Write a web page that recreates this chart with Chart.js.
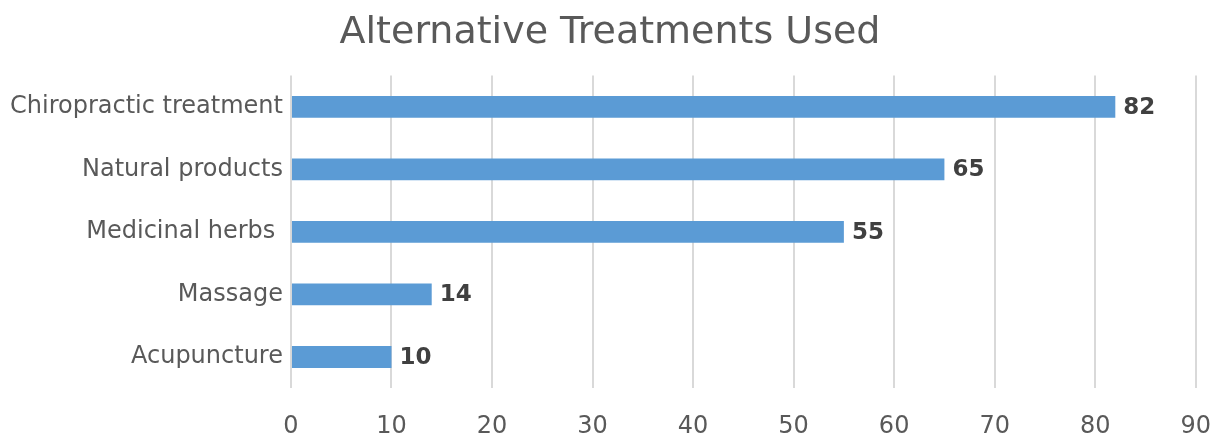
<!DOCTYPE html>
<html><head><meta charset="utf-8">
<script src="https://cdn.jsdelivr.net/npm/chart.js@4"></script>
<style>html,body{margin:0;padding:0;background:#fff}#wrap{width:1213px;height:433px}</style>
</head><body><div id="wrap"><canvas id="c"></canvas></div>
<script>
const categories = ["Chiropractic treatment","Natural products","Medicinal herbs ","Massage","Acupuncture"];
const values = [82,65,55,14,10];
const xTicks = [0,10,20,30,40,50,60,70,80,90];

const labelPlugin = {
  id: 'barLabels',
  afterDatasetsDraw(chart) {
    const ctx = chart.ctx;
    const meta = chart.getDatasetMeta(0);
    ctx.save();
    ctx.font = 'bold 23px "DejaVu Sans"';
    ctx.fillStyle = '#404040';
    ctx.textAlign = 'left';
    ctx.textBaseline = 'middle';
    meta.data.forEach((bar, i) => {
      ctx.fillText(String(values[i]), bar.x + 8, bar.y + 1);
    });
    ctx.restore();
  }
};

new Chart(document.getElementById('c'), {
  type: 'bar',
  data: { labels: categories, datasets: [{ data: values, backgroundColor: '#5B9BD5', categoryPercentage: 1, barPercentage: 0.35 }] },
  options: {
    indexAxis: 'y', responsive: true, maintainAspectRatio: false, animation: false,
    layout: { padding: { left: 2, right: -5, top: 10, bottom: -10 } },
    plugins: {
      legend: { display: false }, tooltip: { enabled: false },
      title: { display: true, text: 'Alternative Treatments Used', color: '#595959',
        font: { family: '"DejaVu Sans"', size: 38, weight: 'normal' }, padding: { top: 0, bottom: 20 } }
    },
    scales: {
      x: { min: 0, max: 90, afterBuildTicks(s){ s.ticks = xTicks.map(v=>({value:v})); },
        grid: { color: '#D9D9D9', lineWidth: 2, drawTicks: true, tickLength: 22, tickColor: 'rgba(0,0,0,0)' }, border: { display: false },
        ticks: { color: '#595959', font: { family: '"DejaVu Sans"', size: 24 }, padding: 2 } },
      y: { grid: { display: false, drawTicks: false }, border: { display: false },
        ticks: { color: '#595959', font: { family: '"DejaVu Sans"', size: 24 }, padding: 8 } }
    }
  },
  plugins: [labelPlugin]
});
</script></body></html>
